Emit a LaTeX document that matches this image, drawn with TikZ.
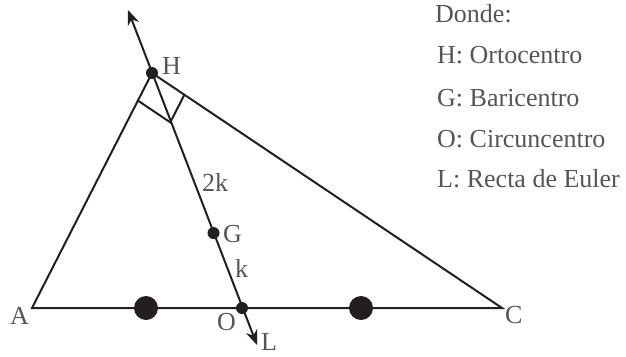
\documentclass[tikz,border=0pt]{standalone}
\usepackage{fontspec}
\setmainfont{Liberation Serif}
\usepackage{tikz}
\usetikzlibrary{arrows.meta, positioning, calc}
\definecolor{ink}{HTML}{231F20}
\definecolor{labelgray}{HTML}{555555}

\begin{document}
\begin{tikzpicture}[
  x=1pt, y=-1pt,
  edge/.style={draw=ink, line width=2pt},
  euler/.style={edge, {Stealth[length=15pt, width=12pt]}-{Stealth[length=15pt, width=12pt]}},
  dot/.style={circle, fill=ink, inner sep=0pt, minimum size=12pt},
  bigdot/.style={dot, minimum size=24pt},
  tag/.style={inner sep=0pt, anchor=base west, text=labelgray,
              font=\fontsize{26}{30}\selectfont}
]
  \useasboundingbox (0,0) rectangle (626,356);

  % points of the triangle
  \coordinate (A) at (32,308);
  \coordinate (C) at (502,308);
  \coordinate (h) at (152,73);
  \coordinate (topL) at (128,10);
  \coordinate (botL) at (257,345);

  % right angle at H
  \coordinate (P1) at ($(h)!31pt!(A)$);
  \coordinate (P2) at ($(h)!39pt!(C)$);
  \coordinate (Q) at ($(P1)+(P2)-(h)$);

  \draw[edge] (A) -- (h) -- (C) -- cycle;
  \draw[edge] (P1) -- (Q) -- (P2);
  \draw[euler] (topL) -- (botL);

  \node[dot] (hdot) at (h) {};
  \node[dot] (g) at (213.5,233) {};
  \node[dot] (o) at (242,308) {};
  \node[bigdot] (m1) at (146,308) {};
  \node[bigdot] (m2) at (361,308) {};

  % labels
  \node[tag] (labH) at (162,74) {H};
  \node[tag] (labG) at (223,242) {G};
  \node[tag] (lab2k) at (202,191) {2k};
  \node[tag] (labk) at (235,277) {k};
  \node[tag] (labO) at (217,330) {O};
  \node[tag] (labL) at (261,350) {L};
  \node[tag] (labA) at (10,324) {A};
  \node[tag] (labC) at (505,323) {C};

  % legend
  \node[tag] (donde) at (435,23) {Donde:};
  \node[tag] (leyH) at (437,63) {H: Ortocentro};
  \node[tag] (leyG) at (437,106) {G: Baricentro};
  \node[tag] (leyO) at (437,147) {O: Circuncentro};
  \node[tag] (leyL) at (437,187) {L: Recta de Euler};
\end{tikzpicture}
\end{document}
